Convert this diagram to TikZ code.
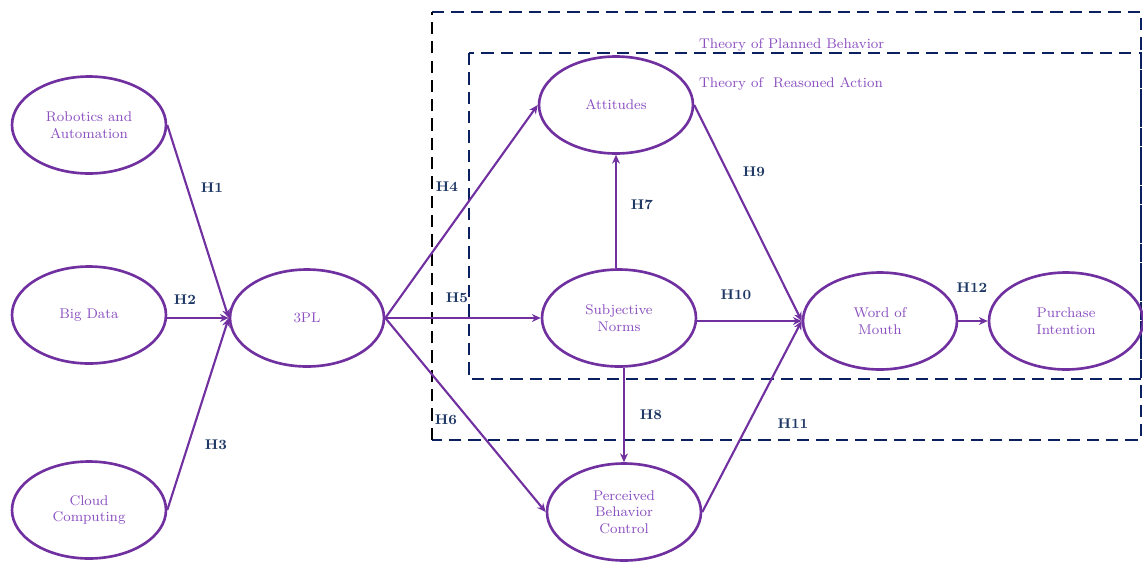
\documentclass[tikz,border=0pt]{standalone}
\usepackage{xcolor}
\usepackage{tikz}
\usetikzlibrary{positioning, arrows.meta, shapes.geometric, calc}

\definecolor{lineviolet}{HTML}{7030A0}
\definecolor{textviolet}{HTML}{8A4FC0}
\definecolor{hnavy}{HTML}{1F3864}
\definecolor{boxnavy}{HTML}{0A2060}

\begin{document}
\begin{tikzpicture}[x=0.02cm, y=-0.02cm, auto,
    construct/.style={ellipse, draw=lineviolet, line width=1.5pt, minimum width=3.08cm, minimum height=1.94cm, align=center, text=textviolet, font=\footnotesize, inner sep=1pt},
    link/.style={-{Stealth[length=5pt, width=4.5pt]}, draw=lineviolet, line width=1.2pt},
    hyp/.style={font=\footnotesize\bfseries, text=hnavy},
    theory/.style={font=\footnotesize, text=textviolet, anchor=west},
    frame/.style={dash pattern=on 7pt off 4pt, line width=1.6pt}]
    \useasboundingbox (0,0) rectangle (1143,565);

    % theory frames
    \draw[frame, draw=boxnavy] (432,12) -- (1141,12) -- (1141,440) -- (432,440);
    \draw[frame, draw=black] (432,440) -- (432,12);
    \draw[frame, draw=boxnavy] (469,53) rectangle (1141,379);
    \node (tpb) [theory] at (693,45) {Theory of Planned Behavior};
    \node (tra) [theory] at (693,84) {Theory of\ \ Reasoned Action};

    \node (rob) [construct] at (89,125) {Robotics and\\Automation};
    \node (bigdata) [construct] at (89,315) {Big Data};
    \node (cloud) [construct] at (89,510) {Cloud\\Computing};
    \node (tpl) [construct] at (307,318) {3PL};
    \node (att) [construct] at (616,105) {Attitudes};
    \node (sn) [construct] at (619,318) {Subjective\\Norms};
    \node (pbc) [construct] at (624,512) {Perceived\\Behavior\\Control};
    \node (wom) [construct] at (880,321) {Word of\\Mouth};
    \node (pi) [construct] at (1066,321) {Purchase\\Intention};

    \draw[link] (rob.east) -- (tpl.west);
    \draw[link] (bigdata.east |- tpl.west) -- (tpl.west);
    \draw[link] (cloud.east) -- (tpl.west);
    \draw[link] (tpl.east) -- (att.west);
    \draw[link] (tpl.east) -- (sn.west |- tpl.east);
    \draw[link] (tpl.east) -- (pbc.west);
    \draw[link] (att.south |- sn.north) -- (att.south);
    \draw[link] (pbc.north |- sn.south) -- (pbc.north);
    \draw[link] (att.east) -- (wom.west);
    \draw[link] (sn.east |- wom.west) -- (wom.west);
    \draw[link] (pbc.east) -- (wom.west);
    \draw[link] (wom.east) -- (pi.west);

    \node (h1) [hyp] at (212,188) {H1};
    \node (h2) [hyp] at (185,300) {H2};
    \node (h3) [hyp] at (216,445) {H3};
    \node (h4) [hyp] at (447,187) {H4};
    \node (h5) [hyp] at (457,298) {H5};
    \node (h6) [hyp] at (446,420) {H6};
    \node (h7) [hyp] at (642,205) {H7};
    \node (h8) [hyp] at (651,415) {H8};
    \node (h9) [hyp] at (754,172) {H9};
    \node (h10) [hyp] at (736,295) {H10};
    \node (h11) [hyp] at (793,424) {H11};
    \node (h12) [hyp] at (972,288) {H12};
\end{tikzpicture}
\end{document}
